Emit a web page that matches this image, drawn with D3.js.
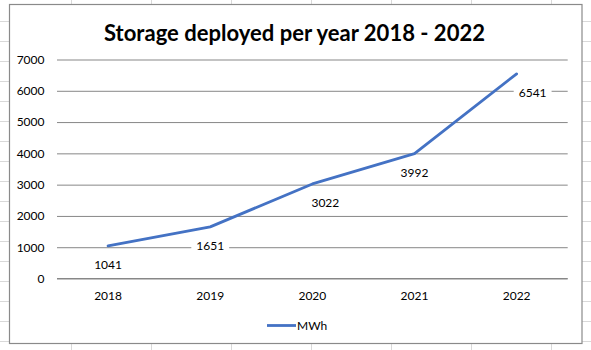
<!DOCTYPE html>
<html>
<head>
<meta charset="utf-8">
<script src="https://cdn.jsdelivr.net/npm/d3@7"></script>
<style>
  html, body { margin: 0; padding: 0; background: #ffffff; }
  svg { display: block; }
</style>
</head>
<body>
<div id="chart"></div>
<script>
// Chart data
const categories = ["2018", "2019", "2020", "2021", "2022"];
const mwhValues = [1041, 1651, 3022, 3992, 6541];
const yTickValues = [0, 1000, 2000, 3000, 4000, 5000, 6000, 7000];
const seriesName = "MWh";
const chartTitle = "Storage deployed per year 2018 - 2022";

// label nudges (Excel moved a couple of them sideways)
const labelNudgeX = [0, 0, 13, 0, 16];

function makeChart(containerSelector) {
    const width = 591, height = 350;
    const fillStyle = {
        fontFamily: "Lato, 'Open Sans', 'Liberation Sans', sans-serif",
        fontSize: "12px",
        textColor: "#000000",
        gridColor: "#878787",
        sheetGridColor: "#d9d9d9",
        frameColor: "#8a8a8a",
        lineColor: "#4472c4"
    };

    d3.select(containerSelector).html("");
    const svg = d3.select(containerSelector).append("svg")
        .attr("width", width)
        .attr("height", height);

    // Block 1: spreadsheet background (cell lines behind the chart object)
    const sheet = svg.append("g").attr("class", "sheet");
    for (let y = 21.5; y < height; y += 20) {
        sheet.append("line").attr("x1", 0).attr("x2", width).attr("y1", y).attr("y2", y)
            .attr("stroke", fillStyle.sheetGridColor).attr("stroke-width", 1);
    }
    for (let x = 71.5; x < width; x += 80) {
        sheet.append("line").attr("x1", x).attr("x2", x).attr("y1", 0).attr("y2", height)
            .attr("stroke", fillStyle.sheetGridColor).attr("stroke-width", 1);
    }

    // chart object frame
    svg.append("rect")
        .attr("x", 9.5).attr("y", 4.5)
        .attr("width", 572.5).attr("height", 339)
        .attr("fill", "#ffffff")
        .attr("stroke", fillStyle.frameColor)
        .attr("stroke-width", 1.2);

    // Block 2: title
    svg.append("text")
        .attr("x", 294.5).attr("y", 40.5)
        .attr("text-anchor", "middle")
        .attr("textLength", 381)
        .attr("lengthAdjust", "spacingAndGlyphs")
        .style("font-family", fillStyle.fontFamily)
        .style("font-size", "23.5px")
        .style("font-weight", "bold")
        .style("fill", fillStyle.textColor)
        .text(chartTitle);

    // Block 3: scales
    const plotLeft = 57, plotRight = 567.7, plotTop = 59.5, plotBottom = 278.5;
    const xScale = d3.scaleBand().domain(categories).range([plotLeft, plotRight]).padding(0);
    const yScale = d3.scaleLinear().domain([0, 7000]).range([plotBottom, plotTop]);
    const cx = c => xScale(c) + xScale.bandwidth() / 2;

    // Block 4: gridlines + axes
    const yAxis = svg.append("g")
        .attr("transform", `translate(${plotLeft},0)`)
        .call(d3.axisLeft(yScale).tickValues(yTickValues)
            .tickSize(-(plotRight - plotLeft)).tickPadding(12.5).tickFormat(d3.format("d")));
    yAxis.select(".domain").remove();
    yAxis.selectAll(".tick line").attr("stroke", fillStyle.gridColor).attr("stroke-width", 1);
    yAxis.selectAll(".tick text")
        .style("font-family", fillStyle.fontFamily)
        .style("font-size", fillStyle.fontSize)
        .style("fill", fillStyle.textColor);

    const xAxis = svg.append("g")
        .attr("transform", `translate(0,${plotBottom})`)
        .call(d3.axisBottom(xScale).tickSize(0).tickPadding(13));
    xAxis.select(".domain").attr("stroke", fillStyle.gridColor).attr("d", `M${plotLeft},0H${plotRight}`);
    xAxis.selectAll(".tick text")
        .style("font-family", fillStyle.fontFamily)
        .style("font-size", fillStyle.fontSize)
        .style("fill", fillStyle.textColor);

    // Block 5: series line
    const line = d3.line()
        .x((d, i) => cx(categories[i]))
        .y(d => yScale(d));
    svg.append("path")
        .datum(mwhValues)
        .attr("d", line)
        .attr("fill", "none")
        .attr("stroke", fillStyle.lineColor)
        .attr("stroke-width", 2.8)
        .attr("stroke-linejoin", "round")
        .attr("stroke-linecap", "round");

    // Block 6: data labels below points, with white boxes
    const labels = svg.append("g").selectAll("g")
        .data(mwhValues)
        .enter().append("g")
        .attr("transform", (d, i) => `translate(${cx(categories[i]) + labelNudgeX[i]},${yScale(d) + 23})`);
    labels.each(function(d) {
        const g = d3.select(this);
        const t = g.append("text")
            .attr("text-anchor", "middle")
            .style("font-family", fillStyle.fontFamily)
            .style("font-size", fillStyle.fontSize)
            .style("fill", fillStyle.textColor)
            .text(d);
        const bb = t.node().getBBox();
        g.insert("rect", "text")
            .attr("x", bb.x - 5).attr("y", bb.y - 1)
            .attr("width", bb.width + 10).attr("height", bb.height + 2)
            .attr("fill", "#ffffff");
    });

    // Block 7: legend
    const legend = svg.append("g").attr("transform", "translate(267,325.5)");
    legend.append("line")
        .attr("x1", 0).attr("x2", 29).attr("y1", 0).attr("y2", 0)
        .attr("stroke", fillStyle.lineColor).attr("stroke-width", 2.8);
    legend.append("text")
        .attr("x", 30).attr("y", 4.5)
        .style("font-family", fillStyle.fontFamily)
        .style("font-size", fillStyle.fontSize)
        .style("fill", fillStyle.textColor)
        .text(seriesName);

    return svg.node();
}

makeChart("#chart");
</script>
</body>
</html>
